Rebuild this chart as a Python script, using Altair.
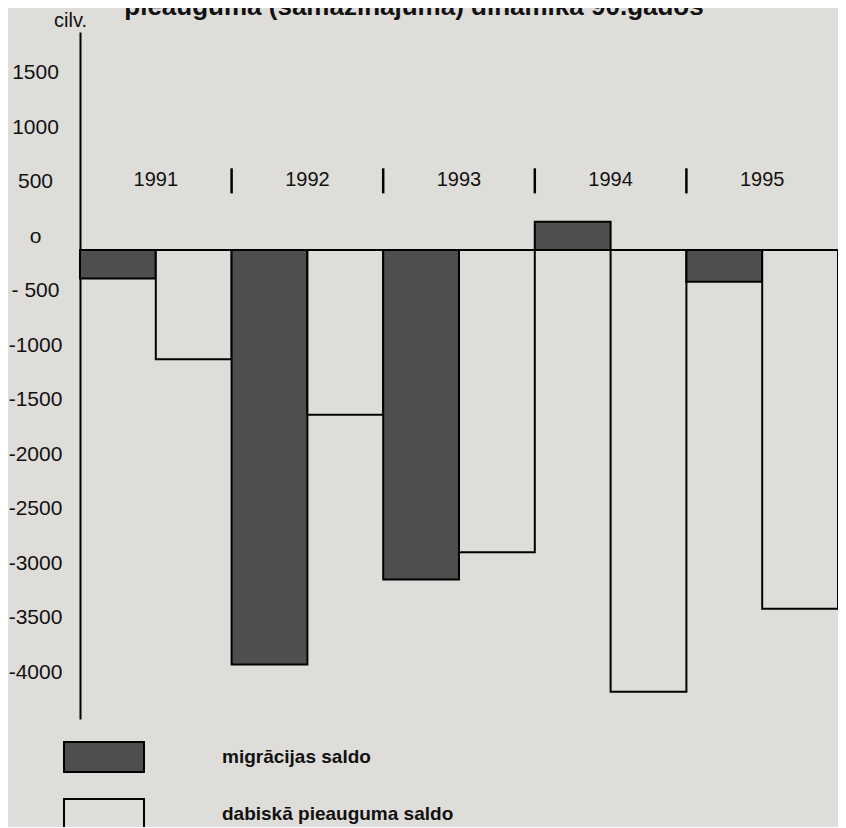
import altair as alt
import pandas as pd

years = ["1991", "1992", "1993", "1994", "1995"]
migration = [-260, -3800, -3020, 260, -290]
natural = [-1000, -1510, -2770, -4050, -3290]
series_names = ["migrācijas saldo", "dabiskā pieauguma saldo"]
y_ticks = [1500, 1000, 500, 0, -500, -1000, -1500, -2000, -2500, -3000, -3500, -4000]
title_text = "pieauguma (samazinājuma) dinamika 90.gados"

BG = "#dfddd9"
DARK = "#4e4e4e"
FONT = "Liberation Sans"

rows = []
for i, yr in enumerate(years):
    rows.append({"year": yr, "series": series_names[0], "value": migration[i]})
    rows.append({"year": yr, "series": series_names[1], "value": natural[i]})
df = pd.DataFrame(rows)

year_df = pd.DataFrame({"year": years})
sep_df = pd.DataFrame({"year": years[1:]})
title_df = pd.DataFrame({"t": [title_text]})

xscale = alt.Scale(domain=years, paddingInner=0, paddingOuter=0)
yscale = alt.Scale(domain=[-4300, 2000], nice=False, zero=False)

bars = alt.Chart(df).mark_bar(stroke="black", strokeWidth=2, opacity=1).encode(
    x=alt.X("year:N", scale=xscale, axis=None),
    xOffset=alt.XOffset("series:N", scale=alt.Scale(domain=series_names, paddingInner=0, paddingOuter=0)),
    y=alt.Y(
        "value:Q",
        scale=yscale,
        axis=alt.Axis(
            values=y_ticks,
            grid=False,
            ticks=False,
            tickSize=0,
            domain=True,
            domainColor="black",
            domainWidth=2,
            labelFont=FONT,
            labelFontSize=21,
            labelColor="#111",
            labelAlign="center",
            labelPadding=45,
            labelOffset=-14,
            labelExpr="datum.value == 0 ? 'o' : (datum.value == -500 ? '- 500' : '' + datum.value)",
            title="cilv.",
            titleAngle=0,
            titleFont=FONT,
            titleFontSize=20,
            titleFontWeight="normal",
            titleColor="#111",
            titleAlign="center",
            titleBaseline="middle",
            titleX=-10,
            titleY=-12,
        ),
    ),
    y2=alt.datum(0),
    fill=alt.Fill(
        "series:N",
        scale=alt.Scale(domain=series_names, range=[DARK, BG]),
        legend=alt.Legend(
            title=None,
            orient="none",
            legendX=8,
            legendY=709,
            padding=0,
            symbolType="M-2.667,-1L2.667,-1L2.667,1L-2.667,1Z",
            symbolSize=900,
            symbolStrokeColor="black",
            symbolStrokeWidth=2,
            symbolOpacity=1,
            labelFont=FONT,
            labelFontSize=19,
            labelFontWeight="bold",
            labelColor="#111",
            labelOffset=102,
            rowPadding=19,
            labelLimit=400,
        ),
    ),
)

zero = alt.Chart(year_df).mark_rule(color="black", strokeWidth=2).encode(
    y=alt.datum(0),
)

seps = alt.Chart(sep_df).mark_rule(color="black", strokeWidth=2.5).encode(
    x=alt.X("year:N", scale=xscale, bandPosition=0),
    y=alt.datum(750),
    y2=alt.datum(520),
)

labels = alt.Chart(year_df).mark_text(
    font=FONT, fontSize=20, color="#111", baseline="middle", align="center"
).encode(
    x=alt.X("year:N", scale=xscale, bandPosition=0.5),
    y=alt.datum(640),
    text="year:N",
)

title = alt.Chart(title_df).mark_text(
    font=FONT, fontSize=26, fontWeight="bold", color="#111", baseline="alphabetic", align="center"
).encode(
    x=alt.value(334),
    y=alt.value(-17),
    text="t:N",
)

chart = alt.layer(bars, zero, seps, labels, title).properties(
    width=758,
    height=687,
    padding={"left": 72, "top": 24, "right": 0, "bottom": 108},
    autosize="none",
    background=BG,
).configure_view(stroke=None)

chart.save("out.html", embed_options={"renderer": "svg", "actions": False})
